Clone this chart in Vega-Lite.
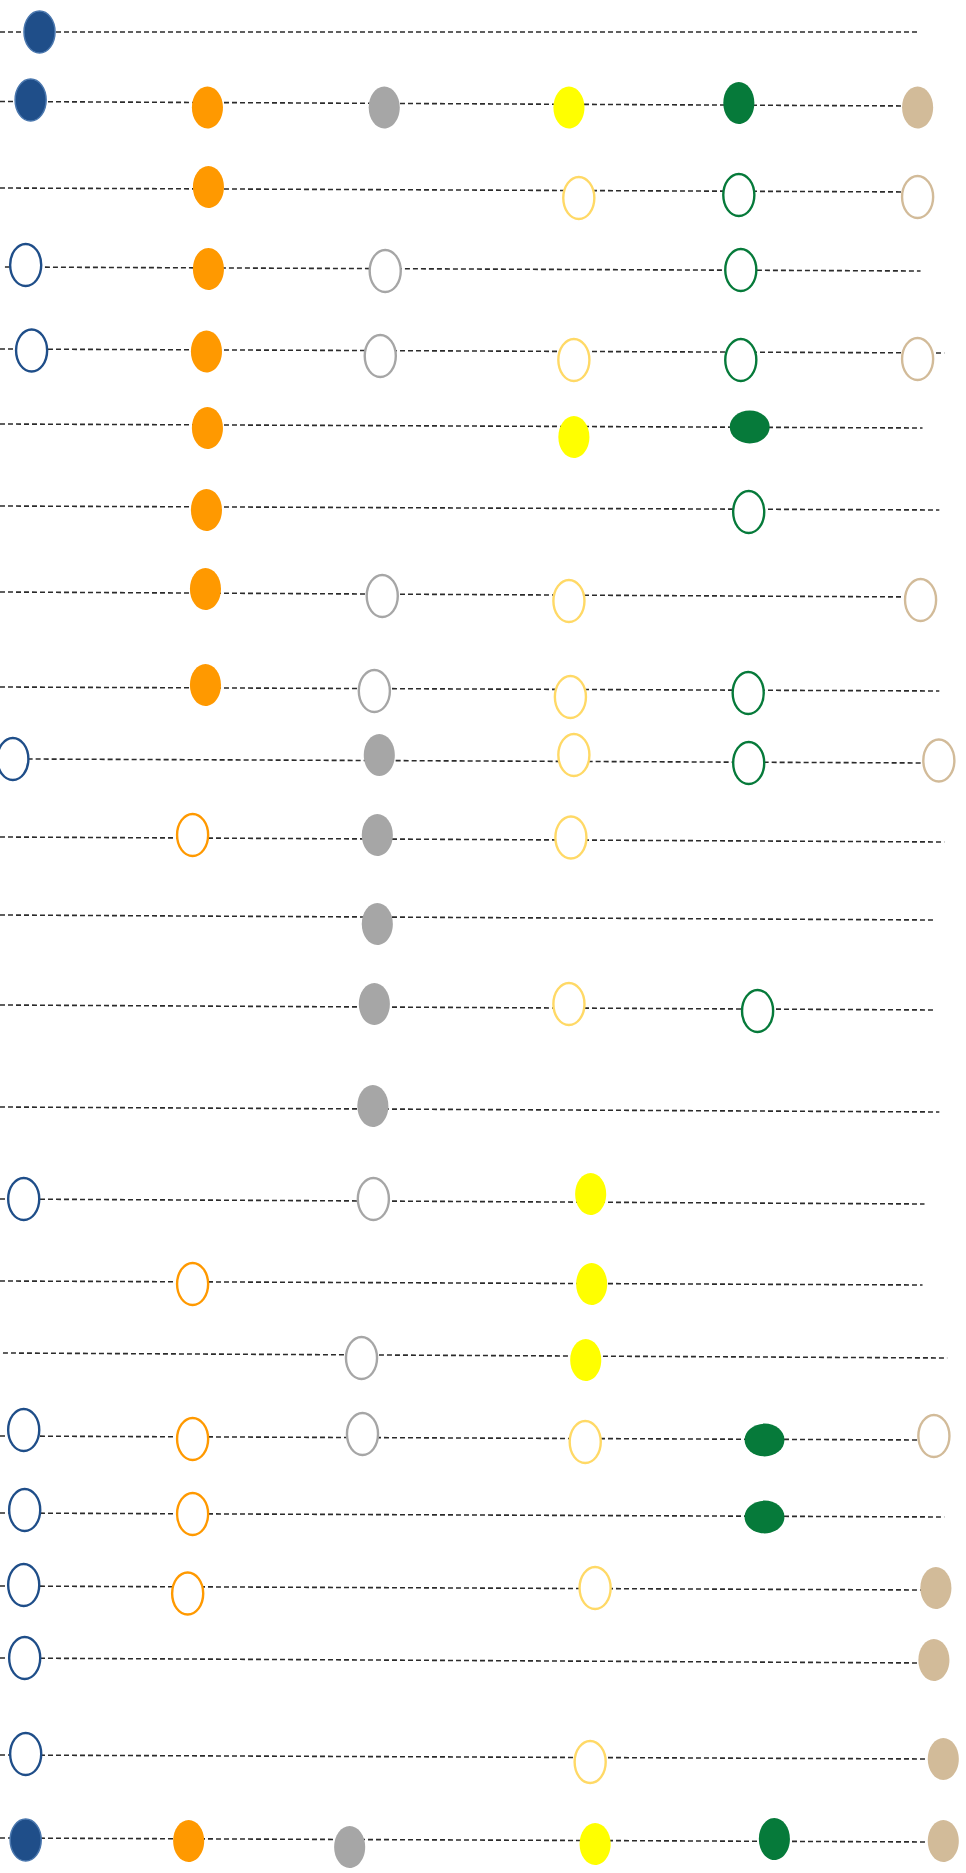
{
  "$schema": "https://vega.github.io/schema/vega-lite/v6.json",
  "width": 966,
  "height": 1873,
  "autosize": {"type": "none"},
  "padding": 0,
  "background": "white",
  "config": {"view": {"stroke": null}},
  "datasets": {
    "lines": [
      {"row": 1, "x1": 0, "y1": 32, "x2": 929, "y2": 32},
      {"row": 2, "x1": 0, "y1": 101.5, "x2": 925, "y2": 106},
      {"row": 3, "x1": 0, "y1": 188, "x2": 925, "y2": 192},
      {"row": 4, "x1": 5, "y1": 267, "x2": 932, "y2": 271},
      {"row": 5, "x1": 0, "y1": 349, "x2": 956, "y2": 353},
      {"row": 6, "x1": 0, "y1": 424, "x2": 934, "y2": 428},
      {"row": 7, "x1": 0, "y1": 506, "x2": 951, "y2": 510},
      {"row": 8, "x1": 0, "y1": 592, "x2": 930, "y2": 597},
      {"row": 9, "x1": 0, "y1": 687, "x2": 951, "y2": 691},
      {"row": 10, "x1": 28, "y1": 759, "x2": 940, "y2": 763},
      {"row": 11, "x1": 0, "y1": 837, "x2": 956, "y2": 842},
      {"row": 12, "x1": 0, "y1": 915, "x2": 945, "y2": 920},
      {"row": 13, "x1": 0, "y1": 1005, "x2": 947, "y2": 1010},
      {"row": 14, "x1": 0, "y1": 1107, "x2": 951, "y2": 1112},
      {"row": 15, "x1": 0, "y1": 1199, "x2": 936, "y2": 1204},
      {"row": 16, "x1": 0, "y1": 1281, "x2": 934, "y2": 1285},
      {"row": 17, "x1": 3, "y1": 1353, "x2": 959, "y2": 1358},
      {"row": 18, "x1": 0, "y1": 1436, "x2": 935, "y2": 1440},
      {"row": 19, "x1": 0, "y1": 1513, "x2": 956, "y2": 1517},
      {"row": 20, "x1": 0, "y1": 1586, "x2": 935, "y2": 1590},
      {"row": 21, "x1": 0, "y1": 1658, "x2": 935, "y2": 1663},
      {"row": 22, "x1": 0, "y1": 1755, "x2": 945, "y2": 1759},
      {"row": 23, "x1": 0, "y1": 1838, "x2": 945, "y2": 1842}
    ],
    "points": [
      {"row": 1, "series": "blue", "x": 40, "y": 32, "status": "filled", "form": "tall"},
      {"row": 2, "series": "blue", "x": 31, "y": 100, "status": "filled", "form": "tall"},
      {"row": 2, "series": "orange", "x": 210, "y": 107.5, "status": "filled", "form": "tall"},
      {"row": 2, "series": "gray", "x": 389, "y": 107.5, "status": "filled", "form": "tall"},
      {"row": 2, "series": "yellow", "x": 576, "y": 107.5, "status": "filled", "form": "tall"},
      {"row": 2, "series": "green", "x": 748, "y": 103, "status": "filled", "form": "tall"},
      {"row": 2, "series": "tan", "x": 929, "y": 107.5, "status": "filled", "form": "tall"},
      {"row": 3, "series": "orange", "x": 211, "y": 187, "status": "filled", "form": "tall"},
      {"row": 3, "series": "yellow", "x": 586, "y": 198, "status": "open", "form": "tall"},
      {"row": 3, "series": "green", "x": 748, "y": 195, "status": "open", "form": "tall"},
      {"row": 3, "series": "tan", "x": 929, "y": 197, "status": "open", "form": "tall"},
      {"row": 4, "series": "blue", "x": 26, "y": 265, "status": "open", "form": "tall"},
      {"row": 4, "series": "orange", "x": 211, "y": 269, "status": "filled", "form": "tall"},
      {"row": 4, "series": "gray", "x": 390, "y": 271, "status": "open", "form": "tall"},
      {"row": 4, "series": "green", "x": 750, "y": 270, "status": "open", "form": "tall"},
      {"row": 5, "series": "blue", "x": 32, "y": 350.5, "status": "open", "form": "tall"},
      {"row": 5, "series": "orange", "x": 209, "y": 351.5, "status": "filled", "form": "tall"},
      {"row": 5, "series": "gray", "x": 385, "y": 356, "status": "open", "form": "tall"},
      {"row": 5, "series": "yellow", "x": 581, "y": 360, "status": "open", "form": "tall"},
      {"row": 5, "series": "green", "x": 750, "y": 360, "status": "open", "form": "tall"},
      {"row": 5, "series": "tan", "x": 929, "y": 359, "status": "open", "form": "tall"},
      {"row": 6, "series": "orange", "x": 210, "y": 428, "status": "filled", "form": "tall"},
      {"row": 6, "series": "yellow", "x": 581, "y": 437, "status": "filled", "form": "tall"},
      {"row": 6, "series": "green", "x": 759, "y": 427, "status": "filled", "form": "wide"},
      {"row": 7, "series": "orange", "x": 209, "y": 510, "status": "filled", "form": "tall"},
      {"row": 7, "series": "green", "x": 758, "y": 512, "status": "open", "form": "tall"},
      {"row": 8, "series": "orange", "x": 208, "y": 589, "status": "filled", "form": "tall"},
      {"row": 8, "series": "gray", "x": 387, "y": 596, "status": "open", "form": "tall"},
      {"row": 8, "series": "yellow", "x": 576, "y": 601, "status": "open", "form": "tall"},
      {"row": 8, "series": "tan", "x": 932, "y": 600, "status": "open", "form": "tall"},
      {"row": 9, "series": "orange", "x": 208, "y": 685, "status": "filled", "form": "tall"},
      {"row": 9, "series": "gray", "x": 379, "y": 691, "status": "open", "form": "tall"},
      {"row": 9, "series": "yellow", "x": 577.5, "y": 697, "status": "open", "form": "tall"},
      {"row": 9, "series": "green", "x": 757.5, "y": 693, "status": "open", "form": "tall"},
      {"row": 10, "series": "blue", "x": 13, "y": 759, "status": "open", "form": "tall"},
      {"row": 10, "series": "gray", "x": 384, "y": 755, "status": "filled", "form": "tall"},
      {"row": 10, "series": "yellow", "x": 581, "y": 755, "status": "open", "form": "tall"},
      {"row": 10, "series": "green", "x": 758, "y": 763, "status": "open", "form": "tall"},
      {"row": 10, "series": "tan", "x": 950.5, "y": 760.5, "status": "open", "form": "tall"},
      {"row": 11, "series": "orange", "x": 195, "y": 835, "status": "open", "form": "tall"},
      {"row": 11, "series": "gray", "x": 382, "y": 835, "status": "filled", "form": "tall"},
      {"row": 11, "series": "yellow", "x": 578, "y": 837.5, "status": "open", "form": "tall"},
      {"row": 12, "series": "gray", "x": 382, "y": 924, "status": "filled", "form": "tall"},
      {"row": 13, "series": "gray", "x": 379, "y": 1004, "status": "filled", "form": "tall"},
      {"row": 13, "series": "yellow", "x": 576, "y": 1004, "status": "open", "form": "tall"},
      {"row": 13, "series": "green", "x": 767, "y": 1011, "status": "open", "form": "tall"},
      {"row": 14, "series": "gray", "x": 377.5, "y": 1106, "status": "filled", "form": "tall"},
      {"row": 15, "series": "blue", "x": 24, "y": 1199, "status": "open", "form": "tall"},
      {"row": 15, "series": "gray", "x": 378, "y": 1199, "status": "open", "form": "tall"},
      {"row": 15, "series": "yellow", "x": 598, "y": 1194, "status": "filled", "form": "tall"},
      {"row": 16, "series": "orange", "x": 195, "y": 1284, "status": "open", "form": "tall"},
      {"row": 16, "series": "yellow", "x": 599, "y": 1284, "status": "filled", "form": "tall"},
      {"row": 17, "series": "gray", "x": 366, "y": 1358, "status": "open", "form": "tall"},
      {"row": 17, "series": "yellow", "x": 593, "y": 1360, "status": "filled", "form": "tall"},
      {"row": 18, "series": "blue", "x": 24, "y": 1430, "status": "open", "form": "tall"},
      {"row": 18, "series": "orange", "x": 195, "y": 1439, "status": "open", "form": "tall"},
      {"row": 18, "series": "gray", "x": 367, "y": 1434, "status": "open", "form": "tall"},
      {"row": 18, "series": "yellow", "x": 592.5, "y": 1442, "status": "open", "form": "tall"},
      {"row": 18, "series": "green", "x": 774, "y": 1440, "status": "filled", "form": "wide"},
      {"row": 18, "series": "tan", "x": 945.5, "y": 1436, "status": "open", "form": "tall"},
      {"row": 19, "series": "blue", "x": 25, "y": 1510, "status": "open", "form": "tall"},
      {"row": 19, "series": "orange", "x": 195, "y": 1514, "status": "open", "form": "tall"},
      {"row": 19, "series": "green", "x": 774, "y": 1517, "status": "filled", "form": "wide"},
      {"row": 20, "series": "blue", "x": 24, "y": 1585, "status": "open", "form": "tall"},
      {"row": 20, "series": "orange", "x": 190, "y": 1593.5, "status": "open", "form": "tall"},
      {"row": 20, "series": "yellow", "x": 602.5, "y": 1588, "status": "open", "form": "tall"},
      {"row": 20, "series": "tan", "x": 947.5, "y": 1588, "status": "filled", "form": "tall"},
      {"row": 21, "series": "blue", "x": 25, "y": 1658, "status": "open", "form": "tall"},
      {"row": 21, "series": "tan", "x": 945.5, "y": 1660, "status": "filled", "form": "tall"},
      {"row": 22, "series": "blue", "x": 26, "y": 1754, "status": "open", "form": "tall"},
      {"row": 22, "series": "yellow", "x": 597.5, "y": 1762, "status": "open", "form": "tall"},
      {"row": 22, "series": "tan", "x": 955, "y": 1759, "status": "filled", "form": "tall"},
      {"row": 23, "series": "blue", "x": 26, "y": 1840, "status": "filled", "form": "tall"},
      {"row": 23, "series": "orange", "x": 191, "y": 1841, "status": "filled", "form": "tall"},
      {"row": 23, "series": "gray", "x": 354, "y": 1847, "status": "filled", "form": "tall"},
      {"row": 23, "series": "yellow", "x": 602.5, "y": 1844, "status": "filled", "form": "tall"},
      {"row": 23, "series": "green", "x": 784, "y": 1839, "status": "filled", "form": "tall"},
      {"row": 23, "series": "tan", "x": 955, "y": 1841, "status": "filled", "form": "tall"}
    ]
  },
  "layer": [
    {
      "data": {"name": "lines"},
      "mark": {"type": "rule", "strokeDash": [5, 3], "strokeWidth": 1.6, "color": "#2b2b2b"},
      "encoding": {
        "x": {"field": "x1", "type": "quantitative", "scale": {"domain": [0, 978], "nice": false, "zero": false}, "axis": null},
        "y": {"field": "y1", "type": "quantitative", "scale": {"domain": [0, 1873], "reverse": true, "nice": false, "zero": false}, "axis": null},
        "x2": {"field": "x2"},
        "y2": {"field": "y2"}
      }
    },
    {
      "data": {"name": "points"},
      "transform": [{"filter": "datum.status === 'open'"}],
      "mark": {"type": "point", "filled": true, "size": 1764, "strokeWidth": 2.4, "opacity": 1},
      "encoding": {
        "x": {"field": "x", "type": "quantitative", "axis": null},
        "y": {"field": "y", "type": "quantitative", "axis": null},
        "fill": {"value": "white"},
        "stroke": {
          "field": "series", "type": "nominal", "legend": null,
          "scale": {"domain": ["blue", "orange", "gray", "yellow", "green", "tan"], "range": ["#1F4E89", "#FF9900", "#A6A6A6", "#FFD966", "#067A3A", "#D2BB99"]}
        },
        "shape": {
          "field": "form", "type": "nominal", "legend": null,
          "scale": {"domain": ["tall", "wide"], "range": [
            "M0,-1C0.409,-1,0.74,-0.552,0.74,0C0.74,0.552,0.409,1,0,1C-0.409,1,-0.74,0.552,-0.74,0C-0.74,-0.552,-0.409,-1,0,-1Z",
            "M0,-0.78C0.525,-0.78,0.95,-0.431,0.95,0C0.95,0.431,0.525,0.78,0,0.78C-0.525,0.78,-0.95,0.431,-0.95,0C-0.95,-0.431,-0.525,-0.78,0,-0.78Z"
          ]}
        }
      }
    },
    {
      "data": {"name": "points"},
      "transform": [{"filter": "datum.status === 'filled'"}],
      "mark": {"type": "point", "filled": true, "size": 1764, "strokeWidth": 1.5, "opacity": 1},
      "encoding": {
        "x": {"field": "x", "type": "quantitative", "axis": null},
        "y": {"field": "y", "type": "quantitative", "axis": null},
        "fill": {
          "field": "series", "type": "nominal", "legend": null,
          "scale": {"domain": ["blue", "orange", "gray", "yellow", "green", "tan"], "range": ["#1F4E89", "#FF9900", "#A6A6A6", "#FFFF00", "#067A3A", "#D2BB99"]}
        },
        "stroke": {"condition": {"test": "datum.series === 'blue'", "value": "#4A77AE"}, "value": "transparent"},
        "shape": {
          "field": "form", "type": "nominal", "legend": null,
          "scale": {"domain": ["tall", "wide"], "range": [
            "M0,-1C0.409,-1,0.74,-0.552,0.74,0C0.74,0.552,0.409,1,0,1C-0.409,1,-0.74,0.552,-0.74,0C-0.74,-0.552,-0.409,-1,0,-1Z",
            "M0,-0.78C0.525,-0.78,0.95,-0.431,0.95,0C0.95,0.431,0.525,0.78,0,0.78C-0.525,0.78,-0.95,0.431,-0.95,0C-0.95,-0.431,-0.525,-0.78,0,-0.78Z"
          ]}
        }
      }
    }
  ]
}
